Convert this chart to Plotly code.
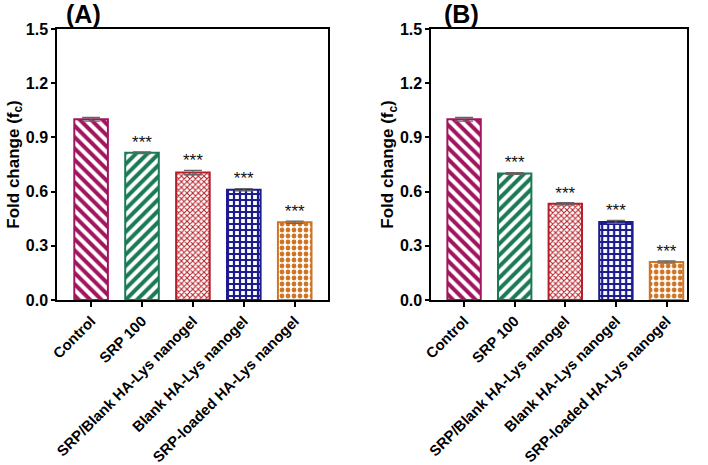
import plotly.graph_objects as go

categories = ["Control", "SRP 100", "SRP/Blank HA-Lys nanogel", "Blank HA-Lys nanogel", "SRP-loaded HA-Lys nanogel"]
values_a = [1.00, 0.815, 0.705, 0.61, 0.43]
errors_a = [0.010, 0.005, 0.012, 0.006, 0.006]
values_b = [1.00, 0.70, 0.532, 0.432, 0.21]
errors_b = [0.010, 0.005, 0.006, 0.008, 0.006]
signif = ["", "***", "***", "***", "***"]
y_ticks = [0.0, 0.3, 0.6, 0.9, 1.2, 1.5]

colors = ["#A0155E", "#1B7A55", "#B51F28", "#1C1C8E", "#CF7423"]
shapes = ["\\", "/", "x", "+", "."]
psizes = [8, 8, 4, 6, 6]
psol = [0.5, 0.5, 0.45, 0.6, 0.5]

FONT = "Liberation Sans, Arial, sans-serif"
fig = go.Figure()

def add_panel(vals, errs, xa, ya):
    idx = list(range(len(categories)))
    fig.add_trace(go.Bar(
        x=idx, y=vals, width=0.66, xaxis=xa, yaxis=ya,
        marker=dict(color="white",
                    line=dict(color=colors, width=2),
                    pattern=dict(shape=shapes, fgcolor=colors, bgcolor="white",
                                 fgopacity=1, size=psizes, solidity=psol,
                                 fillmode="replace")),
        error_y=dict(type="data", array=errs, color="#666666", thickness=1.3, width=9),
        showlegend=False))
    sx = [i for i in idx if signif[i]]
    sy = [vals[i] + errs[i] for i in sx]
    st = [signif[i] for i in sx]
    fig.add_trace(go.Scatter(
        x=sx, y=sy, xaxis=xa, yaxis=ya,
        mode="text", text=st, textposition="top center",
        textfont=dict(family=FONT, size=17, color="#111111"),
        showlegend=False, cliponaxis=False))

add_panel(values_a, errors_a, "x", "y")
add_panel(values_b, errors_b, "x2", "y2")

ydom = [0.355, 0.9376]
xcommon = dict(tickmode="array", tickvals=list(range(5)), ticktext=categories,
               tickangle=-45, ticks="outside", ticklen=5, tickwidth=1.5, tickcolor="black",
               showline=True, linecolor="black", linewidth=1.5, mirror=True,
               showgrid=False, zeroline=False, automargin=False,
               tickfont=dict(family=FONT, size=14.8, color="black", weight="bold"))
ycommon = dict(range=[0, 1.5], tickvals=y_ticks, tickformat=".1f",
               ticks="outside", ticklen=4, tickwidth=1.5, tickcolor="black",
               showline=True, linecolor="black", linewidth=1.5, mirror=True,
               showgrid=False, zeroline=False, automargin=False,
               tickfont=dict(family=FONT, size=16, color="black", weight="bold"),
               title=dict(text="Fold change (f<sub>c</sub>)", standoff=2,
                          font=dict(family=FONT, size=17, color="black", weight="bold")))

fig.update_layout(
    width=708, height=465, margin=dict(l=0, r=0, t=0, b=0),
    paper_bgcolor="white", plot_bgcolor="white", bargap=0.3,
    xaxis=dict(domain=[0.0805, 0.463], range=[-0.67, 4.65], anchor="y", **xcommon),
    yaxis=dict(domain=ydom, anchor="x", **ycommon),
    xaxis2=dict(domain=[0.609, 0.970], range=[-0.65, 4.4], anchor="y2", **xcommon),
    yaxis2=dict(domain=ydom, anchor="x2", **ycommon),
    annotations=[
        dict(text="(A)", x=64 / 708, y=1 - 30 / 465, xref="paper", yref="paper",
             xanchor="left", yanchor="bottom", showarrow=False,
             font=dict(family=FONT, size=25, color="black", weight="bold")),
        dict(text="(B)", x=442 / 708, y=1 - 30 / 465, xref="paper", yref="paper",
             xanchor="left", yanchor="bottom", showarrow=False,
             font=dict(family=FONT, size=25, color="black", weight="bold")),
    ],
)

fig.write_html("out.html", config={"displayModeBar": False},
               post_script="document.body.style.margin='0px';document.body.style.overflow='hidden';")
